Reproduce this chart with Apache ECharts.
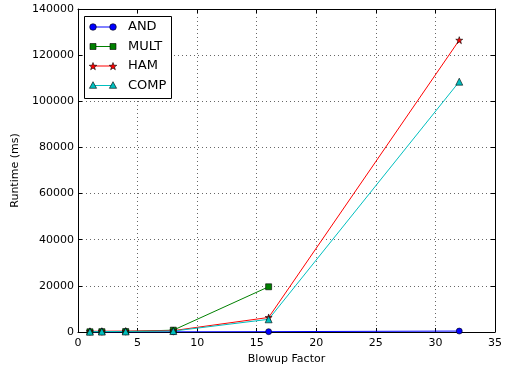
<!DOCTYPE html>
<html>
<head>
<meta charset="utf-8">
<script src="https://cdn.jsdelivr.net/npm/echarts@6/dist/echarts.min.js"></script>
<style>html,body{margin:0;padding:0;background:#fff}#c{width:506px;height:367px}</style>
</head>
<body>
<div id="c"></div>
<script>
const blowup = [1, 2, 4, 8, 16, 32];
const andVals = [10, 20, 40, 80, 150, 400];
const multVals = [100, 150, 200, 800, 19600];
const hamVals = [300, 350, 400, 600, 6300, 126500];
const compVals = [150, 200, 250, 400, 5500, 108500];
const seriesNames = ['AND', 'MULT', 'HAM', 'COMP'];

const font = 'DejaVu Sans';
const colors = ['#0000ff', '#008000', '#ff0000', '#00bfbf'];
function pairs(v){ return v.map((y,i)=>[blowup[i], y]); }

const chart = echarts.init(document.getElementById('c'), null, {renderer:'canvas'});
const axisCommon = {
  axisLine:{show:true, onZero:false, lineStyle:{color:'#000', width:1}},
  axisTick:{show:true, inside:true, length:4, lineStyle:{color:'#000', width:1}},
  splitLine:{show:false}
};
function mkSeries(name, vals, color, symbol, size){
  return {
    name, type:'line', data:pairs(vals), symbol, symbolSize:size,
    lineStyle:{color, width:1}, itemStyle:{color, borderColor:'#000', borderWidth:0.6},
    emphasis:{disabled:true}, animation:false, z:3
  };
}
const starPath = 'path://M50,0 L61.8,35.4 L100,35.4 L69.1,57.3 L80.9,95.1 L50,72.4 L19.1,95.1 L30.9,57.3 L0,35.4 L38.2,35.4 Z';

// legend drawn as graphic (matplotlib style: two markers per entry)
function starPts(cx, cy, r){
  const pts=[];
  for(let i=0;i<10;i++){
    const a = -Math.PI/2 + i*Math.PI/5;
    const rr = i%2===0 ? r : r*0.4;
    pts.push([cx+rr*Math.cos(a), cy+rr*Math.sin(a)]);
  }
  return pts;
}
function markerShape(kind, cx, cy, color){
  const style = {fill:color, stroke:'#000', lineWidth:0.6};
  if(kind==='circle') return {type:'circle', shape:{cx, cy, r:3.3}, style};
  if(kind==='rect') return {type:'rect', shape:{x:cx-3, y:cy-3, width:6, height:6}, style};
  if(kind==='star') return {type:'polygon', shape:{points:starPts(cx, cy+0.5, 4)}, style};
  return {type:'polygon', shape:{points:[[cx, cy-3.8],[cx+3.6, cy+2.8],[cx-3.6, cy+2.8]]}, style};
}
const kinds = ['circle','rect','star','triangle'];
const rowY = [27, 46.5, 66, 85.5];
const legendEls = [{type:'rect', shape:{x:84.5, y:16.5, width:87, height:82}, style:{fill:'#fff', stroke:'#000', lineWidth:1}, z:10}];
seriesNames.forEach((n, i)=>{
  const y = rowY[i];
  legendEls.push({type:'line', shape:{x1:93, y1:y, x2:113, y2:y}, style:{stroke:colors[i], lineWidth:1}, z:11});
  const m1 = markerShape(kinds[i], 93, y, colors[i]); m1.z = 12; legendEls.push(m1);
  const m2 = markerShape(kinds[i], 113, y, colors[i]); m2.z = 12; legendEls.push(m2);
  legendEls.push({type:'text', x:128, y:y, style:{text:n, fontFamily:font, fontSize:13, fill:'#000', verticalAlign:'middle', align:'left'}, z:12});
});

chart.setOption({
  animation:false,
  grid:{left:78, right:11, top:9, bottom:35, containLabel:false, outerBoundsMode:'none'},
  xAxis:[
    Object.assign({}, axisCommon, {type:'value', min:0, max:35, interval:5, position:'bottom',
      name:'Blowup Factor', nameLocation:'middle', nameGap:21,
      nameTextStyle:{fontFamily:font, fontSize:11, color:'#000'},
      axisLabel:{fontFamily:font, fontSize:11, color:'#000', margin:6, formatter:v=>String(v)},
      splitLine:{show:true, lineStyle:{color:'#000', width:0.6, type:[1,3]}}}),
    Object.assign({}, axisCommon, {type:'value', min:0, max:35, interval:5, position:'top', axisLabel:{show:false}})
  ],
  yAxis:[
    Object.assign({}, axisCommon, {type:'value', min:0, max:140000, interval:20000, position:'left',
      name:'Runtime (ms)', nameLocation:'middle', nameGap:48,
      nameTextStyle:{fontFamily:font, fontSize:11, color:'#000'},
      axisLabel:{fontFamily:font, fontSize:11, color:'#000', margin:4, formatter:v=>String(v)},
      splitLine:{show:true, lineStyle:{color:'#000', width:0.6, type:[1,3]}}}),
    Object.assign({}, axisCommon, {type:'value', min:0, max:140000, interval:20000, position:'right', axisLabel:{show:false}})
  ],
  graphic:legendEls,
  series:[
    mkSeries(seriesNames[0], andVals, colors[0], 'circle', 6),
    mkSeries(seriesNames[1], multVals, colors[1], 'rect', 6),
    mkSeries(seriesNames[2], hamVals, colors[2], starPath, 7),
    mkSeries(seriesNames[3], compVals, colors[3], 'triangle', 7)
  ]
});
</script>
</body>
</html>
